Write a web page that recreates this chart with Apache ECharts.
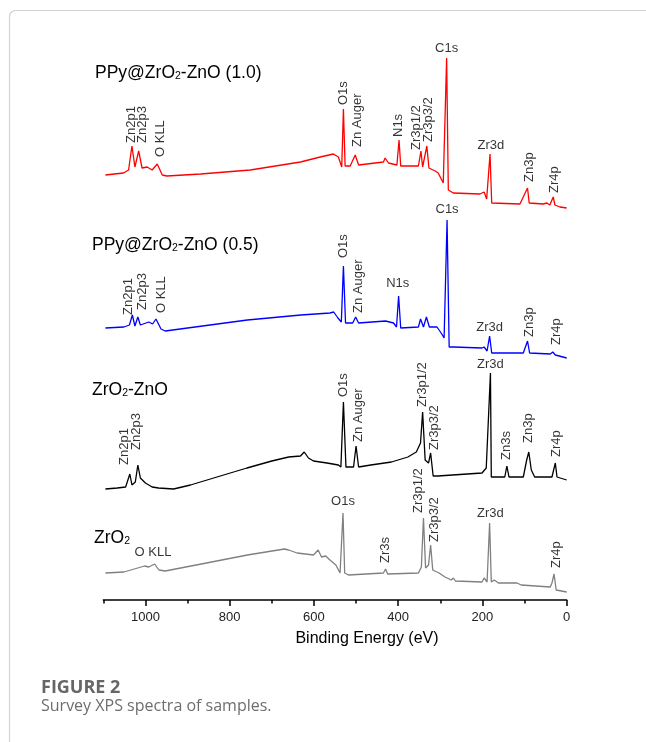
<!DOCTYPE html>
<html>
<head>
<meta charset="utf-8">
<title>Survey XPS spectra</title>
<script src="https://cdn.jsdelivr.net/npm/echarts@6/dist/echarts.min.js"></script>
<style>
  html, body { margin: 0; padding: 0; background: #fff; }
  #chart { width: 646px; height: 742px; }
</style>
</head>
<body>
<div id="chart"></div>
<script>
// binding energy (eV), intensity (a.u., curves already offset for stacking)
const ppy10 = [
  [1095, 425], [1052, 427], [1040, 430], [1032, 454], [1025, 433], [1016, 449], [1008, 432],
  [996, 433], [984, 430], [972, 436], [960, 425], [949, 424], [869, 426], [751, 430],
  [632, 438], [585, 443], [554, 446], [542, 443], [534, 433], [530, 491], [526, 434],
  [514, 434], [502, 445], [494, 435], [435, 438], [431, 442], [423, 437], [403, 435],
  [398, 460], [394, 434], [352, 434], [346, 449], [342, 433], [332, 454], [327, 432],
  [312, 429], [305, 427], [293, 417], [285, 542], [281, 410], [269, 407], [206, 406],
  [196, 408], [190, 401], [182, 446], [178, 397], [111, 396], [93, 412], [89, 397],
  [56, 396], [47, 397], [40, 395], [32, 403], [28, 395], [16, 393], [0, 392]
];
const ppy05 = [
  [1095, 272], [1051, 273], [1038, 275], [1031, 285], [1025, 274], [1018, 283], [1012, 275],
  [992, 278], [983, 276], [975, 281], [963, 271], [953, 269], [758, 280], [631, 285],
  [562, 287], [553, 288], [543, 282], [535, 278], [530, 334], [525, 277], [508, 277],
  [501, 283], [494, 277], [430, 279], [411, 277], [404, 273], [399, 304], [394, 272],
  [352, 273], [347, 281], [340, 273], [333, 283], [326, 273], [308, 273], [298, 267],
  [291, 262], [284, 380], [279, 253], [269, 253], [201, 252], [196, 253], [189, 249],
  [183, 264], [178, 247], [103, 247], [93, 259], [88, 247], [39, 246], [33, 248],
  [27, 245], [0, 242]
];
const zro2zno = [
  [1095, 111], [1067, 112], [1047, 113], [1037, 126], [1032, 115], [1024, 118], [1018, 135],
  [1012, 122], [1000, 117], [984, 113], [969, 112], [933, 111], [893, 115], [838, 122],
  [759, 132], [700, 139], [660, 143], [632, 144], [623, 148], [613, 142], [601, 139], [569, 137],
  [542, 135], [536, 133], [530, 198], [524, 133], [506, 133], [500, 154], [494, 133],
  [465, 135], [416, 138], [377, 143], [357, 148], [347, 157], [342, 188], [336, 140],
  [328, 137], [323, 147], [317, 124], [306, 124], [201, 127], [191, 132], [181, 227],
  [179, 123], [147, 123], [142, 134], [137, 123], [103, 123], [95, 140], [90, 148],
  [84, 130], [76, 123], [35, 123], [27, 137], [23, 123], [0, 120]
];
const zro2 = [
  [1095, 27], [1051, 28], [1002, 34], [992, 33], [978, 36], [968, 30], [953, 29],
  [855, 37], [758, 45], [670, 51], [660, 50], [640, 47], [601, 45], [590, 50],
  [582, 43], [572, 44], [562, 40], [548, 35], [538, 27], [531, 87], [527, 27],
  [518, 25], [435, 27], [430, 31], [425, 26], [352, 27], [345, 33], [340, 82],
  [335, 32], [328, 35], [323, 55], [318, 30], [303, 27], [289, 23], [274, 20],
  [269, 22], [264, 19], [201, 18], [196, 22], [189, 18], [183, 77], [179, 18],
  [172, 20], [162, 17], [118, 17], [108, 15], [39, 13], [35, 17], [30, 26],
  [25, 10], [0, 8]
];

// peak labels: [eV, intensity at label foot, text, vertical?]
const ppy10Labels = [
  [1033, 457, 'Zn2p1', 1], [1007, 457, 'Zn2p3', 1], [965, 443, 'O KLL', 1],
  [530, 495, 'O1s', 1], [497, 453, 'Zn Auger', 1], [399, 463, 'N1s', 1],
  [356, 450, 'Zr3p1/2', 1], [328, 458, 'Zr3p3/2', 1], [285, 545, 'C1s', 0],
  [180, 448, 'Zr3d', 0], [89, 418, 'Zn3p', 1], [28, 407, 'Zr4p', 1]
];
const ppy05Labels = [
  [1041, 285, 'Zn2p1', 1], [1007, 290, 'Zn2p3', 1], [963, 287, 'O KLL', 1],
  [530, 342, 'O1s', 1], [494, 287, 'Zn Auger', 1], [401, 310, 'N1s', 0],
  [284, 384, 'C1s', 0], [183, 266, 'Zr3d', 0], [88, 263, 'Zn3p', 1], [25, 255, 'Zr4p', 1]
];
const zro2znoLabels = [
  [1049, 135, 'Zn2p1', 1], [1021, 150, 'Zn2p3', 1], [530, 203, 'O1s', 1],
  [494, 158, 'Zn Auger', 1], [342, 193, 'Zr3p1/2', 1], [313, 150, 'Zr3p3/2', 1],
  [181, 229, 'Zr3d', 0], [142, 140, 'Zn3s', 1], [90, 157, 'Zn3p', 1], [25, 143, 'Zr4p', 1]
];
const zro2Labels = [
  [982, 41, 'O KLL', 0], [531, 92, 'O1s', 0], [430, 37, 'Zr3s', 1],
  [352, 87, 'Zr3p1/2', 1], [313, 58, 'Zr3p3/2', 1], [181, 80, 'Zr3d', 0], [25, 32, 'Zr4p', 1]
];

const majorTicks = [0, 200, 400, 600, 800, 1000];
const minorTicks = [100, 300, 500, 700, 900, 1100];

const sampleNames = ['PPy@ZrO{s|2}-ZnO (1.0)', 'PPy@ZrO{s|2}-ZnO (0.5)', 'ZrO{s|2}-ZnO', 'ZrO{s|2}'];
const sampleColors = ['#ff0000', '#0000ff', '#000000', '#808080'];

const chart = echarts.init(document.getElementById('chart'));

const FONT = 'Arial, "Liberation Sans", sans-serif';

function toLabelData (rows) {
  return rows.map(r => ({
    value: [r[0], r[1]],
    name: r[2],
    label: r[3]
      ? { rotate: 90, align: 'left', verticalAlign: 'middle' }
      : { rotate: 0, align: 'center', verticalAlign: 'bottom' }
  }))
}

function lineSeries (data, color) {
  return {
    type: 'line',
    data: data,
    xAxisIndex: 0,
    symbol: 'none',
    silent: true,
    lineStyle: { color: color, width: 1.3 }
  }
}

function labelSeries (rows) {
  return {
    type: 'scatter',
    data: toLabelData(rows),
    xAxisIndex: 0,
    symbolSize: 0,
    clip: false,
    silent: true,
    label: {
      show: true,
      position: 'inside',
      formatter: p => p.name,
      color: '#000',
      fontFamily: FONT,
      fontSize: 13
    }
  }
}

const titleTops = [73, 245, 390, 538];
const titleLefts = [95, 92, 92, 94];

const graphics = [
  {
    type: 'rect',
    shape: { x: 9.5, y: 10.5, width: 900, height: 900, r: 6 },
    style: { fill: 'none', stroke: '#d2d2d2', lineWidth: 1.2 },
    silent: true
  },
  {
    type: 'text', x: 41, y: 688,
    style: {
      text: 'FIGURE 2', fill: '#666', fontFamily: '"Open Sans", sans-serif',
      fontWeight: 'bold', fontSize: 18, verticalAlign: 'middle'
    }
  },
  {
    type: 'text', x: 41, y: 706,
    style: {
      text: 'Survey XPS spectra of samples.', fill: '#6e6e6e', fontFamily: '"Open Sans", sans-serif',
      fontSize: 16, verticalAlign: 'middle'
    }
  }
];
sampleNames.forEach((name, i) => {
  graphics.push({
    type: 'text', x: titleLefts[i], y: titleTops[i],
    style: {
      text: name, fill: '#000', fontFamily: FONT, fontSize: 17.5,
      verticalAlign: 'middle', lineHeight: 18,
      rich: { s: { fontSize: 10.5, fontFamily: FONT, fill: '#000', verticalAlign: 'bottom', lineHeight: 10 } }
    }
  })
});

chart.setOption({
  animation: false,
  backgroundColor: '#fff',
  grid: { left: 103.3, right: 79.3, top: 0, bottom: 142 },
  xAxis: [
    {
      type: 'value', min: 0, max: 1100, inverse: true, position: 'bottom',
      name: 'Binding Energy (eV)', nameLocation: 'middle', nameGap: 31,
      nameTextStyle: { fontFamily: FONT, fontSize: 16, color: '#000', padding: [0, 0, 0, 64] },
      splitLine: { show: false },
      axisLine: { lineStyle: { color: '#000', width: 1.5 } },
      axisTick: { customValues: majorTicks, length: 6, lineStyle: { color: '#000', width: 1.5 } },
      axisLabel: {
        customValues: majorTicks, margin: 11, fontFamily: FONT, fontSize: 13, color: '#222',
        formatter: v => String(v)
      }
    },
    {
      type: 'value', min: 0, max: 1100, inverse: true, position: 'bottom',
      splitLine: { show: false },
      axisLine: { show: false },
      axisTick: { customValues: minorTicks, length: 3.5, lineStyle: { color: '#000', width: 1.5 } },
      axisLabel: { show: false }
    }
  ],
  yAxis: { type: 'value', min: 0, max: 600, show: false },
  series: [
    lineSeries(ppy10, sampleColors[0]),
    lineSeries(ppy05, sampleColors[1]),
    lineSeries(zro2zno, sampleColors[2]),
    lineSeries(zro2, sampleColors[3]),
    labelSeries(ppy10Labels),
    labelSeries(ppy05Labels),
    labelSeries(zro2znoLabels),
    labelSeries(zro2Labels)
  ],
  graphic: graphics
});
</script>
</body>
</html>
